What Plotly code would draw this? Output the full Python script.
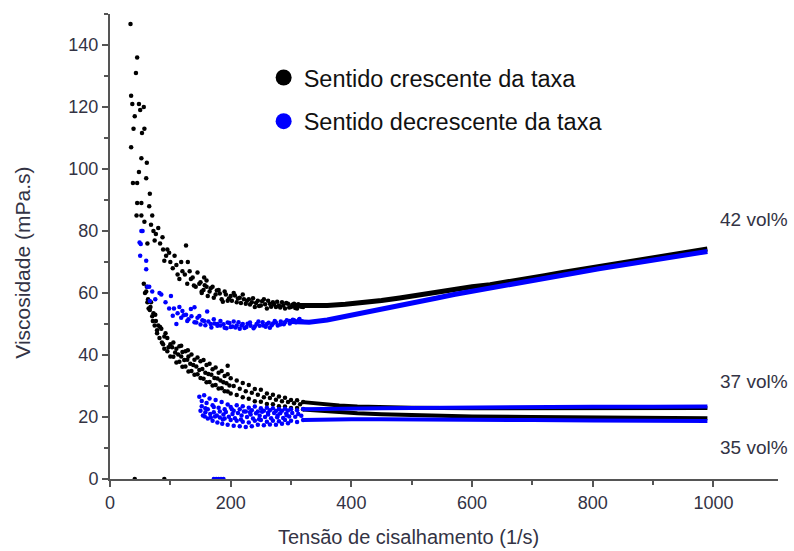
import plotly.graph_objects as go

# ---------------- DATA ----------------
# 42 vol% - increasing rate (black): scattered low-shear part
c42_up_scatter_x = [34, 45, 43, 35, 37, 48, 56, 50, 41, 39, 57, 53, 35, 52, 61, 48, 38, 45, 60, 66, 45, 52,
                    44, 52, 70, 80, 57, 62, 74, 87, 126, 95, 107, 90, 129, 104, 120, 145, 115, 134, 156, 139,
                    150, 155, 160, 165, 170, 175, 180, 185, 190, 195, 200, 205, 210, 215, 220, 225, 230, 235,
                    240, 245, 250, 255, 260, 265, 270, 275, 280, 285, 290, 295, 300, 305, 310, 315, 320,
                    65, 68, 72, 76, 83, 88, 93, 98, 100, 110, 112, 118, 124, 128, 132, 137, 142, 148, 152, 160,
                    152, 157, 162, 167, 172, 177, 182, 187, 192, 197, 202, 207, 212, 217, 222, 227, 232, 237,
                    242, 247, 252, 257, 262, 267, 272, 277, 282, 287, 292, 297, 302, 307, 312, 317,
                    41, 90]
c42_up_scatter_y = [146.8, 136, 131, 123.6, 121, 121, 120, 119, 117, 113, 113, 111.6, 107, 103.5, 102, 99, 95.5,
                    95.5, 97, 92, 89, 89, 85, 85, 85, 81, 83, 76, 76.9, 78, 75.3, 74, 72, 70.4, 70, 68, 67, 66.6,
                    64.5, 64.5, 65, 62.4,
                    63.5, 61, 64, 60.5, 62, 59.5, 61, 58, 60.5, 57.5, 59, 60, 57, 58.5, 59.5, 56.5, 58, 57, 55.5,
                    57.5, 56, 58, 55, 56.5, 57, 55.5, 56, 57, 55, 56.5, 55.5, 56.5, 55, 56, 55.5,
                    88, 82, 80, 79, 76, 74, 72, 73, 70, 69, 66, 70, 66, 63, 67, 65, 62, 63, 60, 62,
                    60.5, 62.5, 59, 61.5, 58.5, 60.8, 59.8, 57.2, 59.5, 58.2, 57.5, 59.2, 58.2, 56.8, 58, 57.5,
                    56.3, 58.3, 56.8, 55.8, 57.3, 56.4, 57.5, 55.6, 56.3, 57.2, 55.3, 56, 56.8, 55.3, 56.2, 55.2,
                    56.4, 55.6,
                    0, 0]
# 42 vol% - increasing rate (black): dense high-shear part
c42_up_line_x = [300, 330, 360, 390, 420, 450, 480, 510, 540, 570, 600, 630, 660, 690, 720, 750, 780, 810, 840,
                 870, 900, 930, 960, 990]
c42_up_line_y = [56, 55.8, 56, 56.4, 56.9, 57.6, 58.4, 59.4, 60, 61.1, 62, 62.7, 63.8, 64.6, 65.6, 66.6, 67.6,
                 68.6, 69.5, 70.5, 71.4, 72.4, 73.3, 74.2]

# 42 vol% - decreasing rate (blue)
c42_dn_scatter_x = [54, 51, 52, 49, 50, 60, 60, 62, 65, 82, 66, 101, 104, 110, 118, 134, 140, 126, 140, 156, 161,
                    167, 183, 210, 232, 254, 275, 298, 314, 70, 75, 85, 92, 98, 115, 122, 130, 145, 150, 172, 178,
                    190, 195, 200, 205, 215, 220, 226, 240, 246, 260, 265, 270, 282, 290, 305,
                    106, 112, 120, 128, 135, 143, 148,
                    153, 158, 163, 168, 173, 178, 183, 188, 193, 198, 203, 208, 213, 218, 223, 228, 233, 238,
                    243, 248, 253, 258, 263, 268, 273, 278, 283, 288, 293, 298, 303, 308, 313, 318,
                    172, 176, 180, 184, 188]
c42_dn_scatter_y = [80, 75.8, 80, 76.3, 72, 70.4, 67.7, 62, 62, 60, 57.4, 59, 52.7, 50, 52, 54.8, 55.4, 53, 50.6,
                    51, 54, 50, 49.5, 49.5, 50.5, 49.5, 50.5, 51, 51.6, 60.5, 58, 59.5, 57, 55, 55.5, 52.8, 51.5,
                    52, 49.8, 51.5, 50, 48.8, 50.5, 49, 50.8, 48.5, 50, 49, 49.2, 50.8, 50, 48.8, 50.2, 49.8,
                    50.6, 51.2,
                    55, 53.5, 54.2, 51, 52.5, 50.5, 52.6,
                    51.2, 49.6, 50.8, 48.9, 50.2, 49.4, 51, 49.9, 48.6, 50.3, 49.2, 48.9, 50.6, 49.5, 48.7, 50.1,
                    49.4, 48.6, 50, 49.4, 50.6, 49.1, 50.4, 49.6, 51, 49.5, 50.8, 49.9, 51.2, 50.2, 51.4, 50.6,
                    51.3, 50.9,
                    0, 0, 0, 0, 0]
c42_dn_line_x = [300, 330, 360, 390, 420, 450, 480, 510, 540, 570, 600, 630, 660, 690, 720, 750, 780, 810, 840,
                 870, 900, 930, 960, 990]
c42_dn_line_y = [50.8, 50.6, 51.3, 52.4, 53.5, 54.6, 55.8, 57.2, 58.3, 59.5, 60.6, 61.6, 62.7, 63.8, 64.8, 65.8,
                 66.8, 67.8, 68.8, 69.8, 70.7, 71.6, 72.5, 73.4]

# 37 vol% - increasing rate (black)
c37_up_scatter_x = [56, 60, 63, 67, 72, 76, 80, 85, 90, 95, 100, 105, 110, 115, 120, 125, 130, 135, 140, 145, 150,
                    155, 160, 165, 170, 175, 180, 185, 190, 195, 200, 210, 220, 230, 240, 250, 260, 270, 280, 290,
                    300, 310, 320, 118, 129, 195,
                    103, 108, 113, 118, 123, 128, 133, 138, 143, 148, 153, 158, 163, 168, 173, 178, 183, 188,
                    193, 198, 205, 215, 225, 235, 245, 255, 265, 275, 285, 295, 305, 315,
                    61, 64, 68, 71, 75, 78, 83, 88, 92, 97]
c37_up_scatter_y = [63, 60.5, 58, 55.5, 53.5, 51, 49.5, 48.5, 46, 45.5, 43.5, 44, 42, 42.8, 41, 41.2, 39.5, 40.2,
                    38.5, 39.2, 38, 38.4, 36.8, 37.2, 35.4, 36, 34.3, 34.8, 33.2, 33.8, 32.5, 31.8, 31, 30.3, 29,
                    28.8, 27.6, 27.2, 26.6, 26.2, 25.5, 25.4, 24.8, 43, 41.5, 36.5,
                    42.5, 40.8, 40.2, 39.5, 38.4, 38.5, 37.2, 36.8, 36.3, 35.2, 35.5, 34.3, 33.9, 33.6, 32.6,
                    32.4, 31.8, 31.2, 30.9, 30.2, 30, 29.1, 28.3, 27.8, 27.2, 26.4, 26.1, 25.6, 25.1, 24.8, 24.4,
                    24.1,
                    62, 55, 57, 51, 53, 47, 49, 43.5, 47, 42.5]
c37_up_line_x = [320, 350, 380, 410, 450, 500, 600, 700, 800, 900, 990]
c37_up_line_y = [24.8, 24.2, 23.7, 23.4, 23.2, 23.0, 22.8, 22.8, 22.8, 22.8, 22.9]

# 37 vol% - decreasing rate (blue)
c37_dn_scatter_x = [148, 152, 156, 160, 165, 170, 175, 180, 185, 190, 195, 200, 205, 210, 215, 220, 225, 230, 235,
                    240, 245, 250, 255, 260, 265, 270, 275, 280, 285, 290, 295, 300, 310, 320,
                    158, 172, 188, 203, 218, 233, 248, 262, 278, 293,
                    152, 157, 162, 167, 172, 177, 182, 187, 192, 197, 202, 207, 212, 217, 222, 227, 232, 237,
                    242, 247, 252, 257, 262, 267, 272, 277, 282, 287, 292, 297, 302, 307, 312, 317]
c37_dn_scatter_y = [26.5, 25.2, 27, 24.5, 26, 23.8, 25.5, 23, 24.8, 22.5, 24, 23.2, 22, 23.8, 22.5, 23.5, 21.8,
                    23, 22.2, 23.4, 21.8, 22.8, 22, 23, 22.2, 22.8, 21.9, 22.6, 22, 22.7, 22.1, 22.5, 22.2, 22.6,
                    22.8, 21.5, 20.8, 21, 20.5, 20.8, 20.4, 20.8, 20.5, 20.6,
                    23.5, 20.2, 22.5, 19.8, 23.2, 20.5, 21.8, 19.2, 21.6, 20.1, 22.5, 19.6, 21.3, 19.2, 21.8, 20,
                    21.5, 19.5, 21.2, 19.3, 21.7, 20, 21.4, 19.6, 21.3, 19.9, 21.2, 19.7, 21.1, 20.2, 21.3, 20.1,
                    21, 20.4]
c37_dn_line_x = [320, 360, 400, 450, 500, 600, 700, 800, 900, 990]
c37_dn_line_y = [22.5, 22.5, 22.6, 22.8, 22.9, 23.1, 23.2, 23.3, 23.3, 23.4]

# 35 vol% - increasing rate (black)
c35_up_scatter_x = [58, 62, 66, 70, 74, 78, 82, 86, 90, 95, 100, 105, 110, 115, 120, 125, 130, 135, 140, 145, 150,
                    155, 160, 165, 170, 175, 180, 185, 190, 195, 200, 210, 220, 230, 240, 250, 260, 270, 280, 290,
                    300, 310, 320]
c35_up_scatter_y = [60, 57, 54.5, 52.5, 49.5, 48, 45.5, 44, 42, 41.2, 39.5, 39.4, 37.6, 37.8, 36.2, 36.3, 34.7,
                    34.8, 33.6, 33.8, 32.6, 32.3, 31.2, 31.3, 30.2, 30.3, 29.2, 29.3, 28.3, 28.2, 27.6, 27.1,
                    26.4, 25.9, 25.1, 24.9, 24.2, 24.1, 23.5, 23.4, 22.9, 22.9, 22.5]
c35_up_line_x = [320, 350, 380, 410, 450, 500, 600, 700, 800, 900, 990]
c35_up_line_y = [22.4, 21.9, 21.5, 21.2, 20.9, 20.6, 20.2, 20.0, 19.8, 19.7, 19.6]

# 35 vol% - decreasing rate (blue)
c35_dn_scatter_x = [150, 154, 158, 162, 166, 170, 174, 178, 182, 186, 190, 195, 200, 205, 210, 215, 220, 225, 230,
                    235, 240, 245, 250, 255, 260, 265, 270, 275, 280, 285, 290, 295, 300, 310, 320]
c35_dn_scatter_y = [22, 20.5, 21.5, 19.5, 21, 18.8, 20.2, 18.2, 19.8, 17.8, 19.5, 17.5, 19, 17.2, 18.8, 17, 18.5,
                    16.8, 18.2, 17, 18.8, 17.5, 19, 17.3, 18.5, 17.6, 18.8, 17.5, 18.6, 17.8, 19, 18, 18.8, 18.4,
                    19]
c35_dn_line_x = [320, 360, 400, 450, 500, 600, 700, 800, 900, 990]
c35_dn_line_y = [19.0, 19.2, 19.3, 19.3, 19.3, 19.2, 19.0, 18.9, 18.8, 18.7]

series_names = ["Sentido crescente da taxa", "Sentido decrescente da taxa"]
curve_labels = ["42 vol%", "37 vol%", "35 vol%"]
curve_label_y = [83.6, 31.5, 10.1]

x_title = "Tensão de cisalhamento (1/s)"
y_title = "Viscosidade (mPa.s)"

# ---------------- STYLE ----------------
BLACK = "#000000"
BLUE = "#0000ff"
AXIS = "#555555"
TXT = "#333344"
FONT = "Arial, Liberation Sans, sans-serif"

fig = go.Figure()

scatter_sets = [
    (c42_up_scatter_x, c42_up_scatter_y, c42_up_line_x, c42_up_line_y, BLACK, 5),
    (c37_up_scatter_x, c37_up_scatter_y, c37_up_line_x, c37_up_line_y, BLACK, 4),
    (c35_up_scatter_x, c35_up_scatter_y, c35_up_line_x, c35_up_line_y, BLACK, 4),
    (c42_dn_scatter_x, c42_dn_scatter_y, c42_dn_line_x, c42_dn_line_y, BLUE, 5),
    (c37_dn_scatter_x, c37_dn_scatter_y, c37_dn_line_x, c37_dn_line_y, BLUE, 4),
    (c35_dn_scatter_x, c35_dn_scatter_y, c35_dn_line_x, c35_dn_line_y, BLUE, 4),
]

for sx, sy, lx, ly, col, lw in scatter_sets:
    fig.add_trace(go.Scatter(x=sx, y=sy, mode="markers",
                             marker=dict(size=4.5, color=col, line=dict(width=0)),
                             showlegend=False, hoverinfo="skip"))
    fig.add_trace(go.Scatter(x=lx, y=ly, mode="lines",
                             line=dict(color=col, width=lw),
                             showlegend=False, hoverinfo="skip"))

# legend entries
fig.add_trace(go.Scatter(x=[None], y=[None], mode="markers", name=series_names[0],
                         marker=dict(size=16, color=BLACK), legend="legend"))
fig.add_trace(go.Scatter(x=[None], y=[None], mode="markers", name=series_names[1],
                         marker=dict(size=16, color=BLUE), legend="legend2"))

annotations = []
for lab, yv in zip(curve_labels, curve_label_y):
    annotations.append(dict(text=lab, x=1.018, xref="paper", y=yv, yref="y",
                            xanchor="right", yanchor="middle", showarrow=False,
                            font=dict(family=FONT, size=19, color=TXT)))
annotations.append(dict(text=x_title, x=0.4476, xref="paper", y=-0.124, yref="paper",
                        xanchor="center", yanchor="middle", showarrow=False,
                        font=dict(family=FONT, size=20, color=TXT)))
annotations.append(dict(text=y_title, x=-0.1303, xref="paper", y=0.465, yref="paper",
                        xanchor="center", yanchor="middle", showarrow=False, textangle=-90,
                        font=dict(family=FONT, size=21, color=TXT)))

legend_common = dict(xanchor="left", yanchor="middle", bgcolor="rgba(0,0,0,0)",
                     font=dict(family=FONT, size=23.5, color="#111111"), borderwidth=0)

fig.update_layout(
    width=794, height=551,
    margin=dict(l=110, r=16, t=14, b=72),
    paper_bgcolor="white", plot_bgcolor="white",
    font=dict(family=FONT, color=TXT),
    legend=dict(x=0.230, y=0.863, **legend_common),
    legend2=dict(x=0.230, y=0.769, **legend_common),
    annotations=annotations,
    xaxis=dict(range=[0, 1107], tickvals=[0, 200, 400, 600, 800, 1000], showgrid=False, zeroline=False,
               showline=True, linecolor=AXIS, linewidth=2,
               ticks="outside", ticklen=6, tickwidth=2, tickcolor=AXIS,
               minor=dict(tickvals=[100, 300, 500, 700, 900], ticks="outside", ticklen=4, tickwidth=2,
                          tickcolor=AXIS),
               tickfont=dict(family=FONT, size=18, color=TXT)),
    yaxis=dict(range=[0, 150], dtick=20, tick0=0, showgrid=False, zeroline=False,
               showline=True, linecolor=AXIS, linewidth=2,
               ticks="outside", ticklen=6, tickwidth=2, tickcolor=AXIS,
               minor=dict(dtick=10, ticks="outside", ticklen=4, tickwidth=2, tickcolor=AXIS),
               tickfont=dict(family=FONT, size=18, color=TXT)),
)

fig.write_html("out.html")
